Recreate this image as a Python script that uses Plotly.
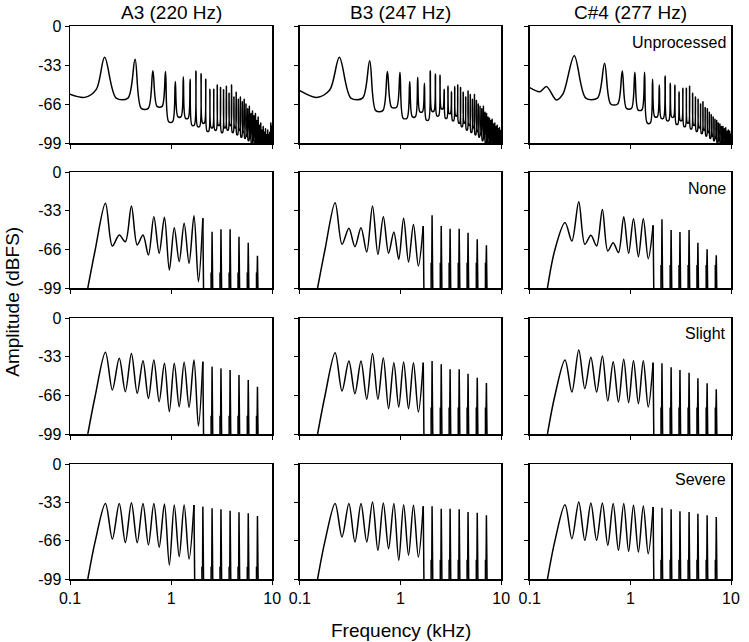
import math
import plotly.graph_objects as go

# ---------------- data ----------------
NOTES = ["A3 (220 Hz)", "B3 (247 Hz)", "C#4 (277 Hz)"]
F0_KHZ = [0.220, 0.247, 0.277]
CONDITIONS = ["Unprocessed", "None", "Slight", "Severe"]
X_TICKS = [0.1, 1, 10]
X_TICK_TEXT = ["0.1", "1", "10"]
Y_TICKS = [0, -33, -66, -99]

# Unprocessed: level before the first harmonic, harmonic peaks, troughs between harmonics
PRE_KHZ_A3 = [0.10, 0.14, 0.182]
PRE_DB_A3 = [-57.8, -60.4, -53.6]
HARM_PEAK_A3 = [-26.5, -28.2, -37.8, -38.6, -47.0, -43.0, -45.0, -38.0, -40.5, -45.0,
                -53.5, -53.5, -50.0, -52.0, -54.0, -51.0, -57.0, -50.0, -60.0, -56.0,
                -62.0, -60.0, -64.0, -62.0, -66.0, -70.0, -68.0, -74.0, -72.0, -76.0,
                -74.0, -80.0, -77.0, -84.0, -82.0, -88.0, -85.0, -90.0, -87.0, -92.0,
                -88.0, -92.0, -90.0, -82.0, -84.0]
HARM_TROUGH_A3 = [-61.0, -69.7, -68.0, -81.0, -76.7, -78.0, -84.0, -85.0, -82.0, -89.0,
                  -86.0, -88.0, -84.0, -90.0, -86.0, -88.0, -84.0, -90.0, -86.0, -92.0,
                  -88.0, -94.0, -90.0, -95.0, -93.0, -97.0, -95.0, -100.0, -97.0, -100.0,
                  -98.0, -101.0, -99.0, -102.0, -100.0, -102.0, -101.0, -103.0, -101.0, -103.0,
                  -101.0, -103.0, -101.0, -102.0]

PRE_KHZ_B3 = [0.10, 0.147, 0.198]
PRE_DB_B3 = [-54.7, -60.4, -54.2]
HARM_PEAK_B3 = [-26.5, -29.3, -38.6, -39.2, -47.0, -43.4, -48.5, -37.8, -40.6, -41.5,
                -53.6, -50.8, -55.6, -51.3, -49.9, -52.0, -56.0, -60.0, -55.0, -58.0,
                -62.0, -58.0, -63.0, -66.0, -68.0, -70.0, -68.0, -73.0, -74.0, -77.0,
                -78.0, -80.0, -79.0, -83.0, -82.0, -85.0, -84.0, -87.0, -86.0, -88.0]
HARM_TROUGH_B3 = [-61.0, -71.6, -68.8, -78.0, -76.7, -72.5, -79.5, -72.0, -76.0, -70.0,
                  -78.0, -74.0, -80.0, -76.0, -82.0, -85.0, -82.0, -88.0, -84.0, -90.0,
                  -86.0, -92.0, -89.0, -94.0, -92.0, -97.0, -95.0, -100.0, -98.0, -101.0,
                  -99.0, -102.0, -100.0, -102.0, -101.0, -103.0, -101.0, -103.0, -102.0]

PRE_KHZ_C4 = [0.10, 0.126, 0.147, 0.184, 0.214]
PRE_DB_C4 = [-52.2, -55.6, -51.3, -62.6, -57.5]
HARM_PEAK_C4 = [-25.1, -31.6, -38.1, -39.2, -39.2, -45.1, -49.9, -42.3, -48.5, -49.9,
                -55.6, -52.7, -52.7, -51.0, -57.0, -60.0, -62.0, -66.0, -64.0, -69.0,
                -70.0, -73.0, -75.0, -77.0, -79.0, -80.0, -82.0, -83.0, -85.0, -85.0,
                -87.0, -86.0, -89.0, -88.0, -89.0, -91.0]
HARM_TROUGH_C4 = [-61.0, -66.0, -69.7, -71.0, -82.0, -76.7, -78.0, -80.0, -77.0, -83.0,
                  -80.0, -85.0, -82.0, -87.0, -84.0, -89.0, -86.0, -91.0, -88.0, -93.0,
                  -90.0, -95.0, -93.0, -97.0, -95.0, -99.0, -97.0, -101.0, -99.0, -102.0,
                  -100.0, -103.0, -101.0, -103.0, -102.0]

# Processed: channel centre frequencies, onset, per-channel peaks, troughs between channels
# (None = trough falls below the -99 dB floor), and level of the spike shoulders
CHANNEL_KHZ = [0.224, 0.307, 0.405, 0.527, 0.675, 0.859, 1.074, 1.345,
               1.683, 2.06, 2.54, 3.11, 3.83, 4.69, 5.79, 7.14]
ONSET_KHZ = [0.150, 0.177]
ONSET_DB = [-99.0, -67.0]

PEAK_NONE_A3 = [-26.7, -53.8, -29.0, -53.8, -38.1, -38.7, -47.5, -43.8, -37.3, -39.5, -50.9, -48.9, -48.9, -55.2, -60.3, -71.4]
TROUGH_NONE_A3 = [-63.2, -59.5, -62.3, -70.8, -69.4, -83.6, -76.5, -78.0, -93.6, None, None, None, None, None, None]
SHOULDER_NONE_A3 = -86.5
PEAK_NONE_B3 = [-26.2, -48.1, -47.5, -29.0, -38.1, -51.2, -39.5, -44.7, -46.1, -37.0, -46.1, -48.4, -48.4, -51.8, -57.5, -62.6]
TROUGH_NONE_B3 = [-61.7, -63.7, -68.3, -70.3, -69.4, -74.5, -76.8, -80.2, None, None, None, None, None, None, None]
SHOULDER_NONE_B3 = -78.0
PEAK_NONE_C4 = [-43.2, -25.3, -54.0, -31.9, -60.3, -38.1, -39.8, -39.8, -45.5, -40.4, -49.5, -51.2, -49.5, -60.3, -66.0, -71.1]
TROUGH_NONE_C4 = [-58.9, -61.7, -63.2, -67.4, -68.8, -69.4, -72.3, -74.0, None, None, None, None, None, None, None]
SHOULDER_NONE_C4 = -80.0

PEAK_SLIGHT_A3 = [-29.3, -34.4, -30.2, -36.4, -35.8, -38.7, -38.7, -37.8, -35.8, -37.3, -41.5, -43.0, -44.4, -48.6, -52.9, -58.6]
TROUGH_SLIGHT_A3 = [-61.4, -62.9, -64.3, -68.6, -71.4, -79.9, -75.7, -76.2, -92.2, None, None, None, None, None, None]
SHOULDER_SLIGHT_A3 = -84.0
PEAK_SLIGHT_B3 = [-29.6, -36.7, -36.7, -30.4, -34.1, -38.1, -37.6, -38.1, -38.1, -36.7, -39.5, -43.8, -43.8, -47.5, -50.9, -55.5]
TROUGH_SLIGHT_B3 = [-62.3, -64.6, -69.4, -69.4, -77.4, -76.0, -77.4, -80.2, None, None, None, None, None, None, None]
SHOULDER_SLIGHT_B3 = -77.0
PEAK_SLIGHT_C4 = [-35.8, -27.3, -33.6, -32.4, -37.3, -35.3, -36.4, -36.4, -38.1, -38.7, -42.1, -44.4, -46.7, -51.5, -55.8, -60.9]
TROUGH_SLIGHT_C4 = [-63.2, -60.3, -63.2, -70.8, -71.7, -72.3, -73.1, -76.0, None, None, None, None, None, None, None]
SHOULDER_SLIGHT_C4 = -77.0

PEAK_SEVERE_A3 = [-33.9, -33.9, -33.3, -33.9, -33.9, -34.4, -35.3, -35.3, -35.3, -36.7, -38.2, -39.0, -40.2, -41.6, -42.5, -44.8]
TROUGH_SEVERE_A3 = [-64.6, -67.7, -67.7, -69.7, -71.7, -86.9, -79.8, -81.8, None, None, None, None, None, None, None]
SHOULDER_SEVERE_A3 = -89.0
PEAK_SEVERE_B3 = [-34.1, -34.1, -34.1, -32.7, -33.6, -34.1, -35.0, -35.6, -36.4, -36.4, -38.5, -38.5, -39.0, -41.3, -41.9, -44.2]
TROUGH_SEVERE_B3 = [-62.8, -67.1, -67.1, -74.3, -72.9, -82.9, -78.6, -80.1, None, None, None, None, None, None, None]
SHOULDER_SEVERE_B3 = -83.0
PEAK_SEVERE_C4 = [-35.0, -32.7, -33.6, -33.6, -34.1, -34.1, -35.6, -36.2, -37.0, -37.6, -39.0, -40.7, -41.3, -42.8, -44.2, -45.6]
TROUGH_SEVERE_C4 = [-64.3, -65.7, -65.7, -70.0, -74.3, -75.2, -75.8, -77.2, None, None, None, None, None, None, None]
SHOULDER_SEVERE_C4 = -83.0

# ---------------- drawing parameters ----------------
FLOOR_DB = -125.0          # below the axis range: clipped by the plot area
SPIKE_IN, SPIKE_OUT = 1.007, 1.022   # spike shelf extents (frequency ratios)
TROUGH_SPAN = (0.3, 0.7)   # where a harmonic trough level is held between harmonics
FONT = "Liberation Sans, Arial, sans-serif"

UNPROC = [
    (PRE_KHZ_A3, PRE_DB_A3, HARM_PEAK_A3, HARM_TROUGH_A3),
    (PRE_KHZ_B3, PRE_DB_B3, HARM_PEAK_B3, HARM_TROUGH_B3),
    (PRE_KHZ_C4, PRE_DB_C4, HARM_PEAK_C4, HARM_TROUGH_C4),
]
PROCESSED = [
    [(PEAK_NONE_A3, TROUGH_NONE_A3, SHOULDER_NONE_A3),
     (PEAK_NONE_B3, TROUGH_NONE_B3, SHOULDER_NONE_B3),
     (PEAK_NONE_C4, TROUGH_NONE_C4, SHOULDER_NONE_C4)],
    [(PEAK_SLIGHT_A3, TROUGH_SLIGHT_A3, SHOULDER_SLIGHT_A3),
     (PEAK_SLIGHT_B3, TROUGH_SLIGHT_B3, SHOULDER_SLIGHT_B3),
     (PEAK_SLIGHT_C4, TROUGH_SLIGHT_C4, SHOULDER_SLIGHT_C4)],
    [(PEAK_SEVERE_A3, TROUGH_SEVERE_A3, SHOULDER_SEVERE_A3),
     (PEAK_SEVERE_B3, TROUGH_SEVERE_B3, SHOULDER_SEVERE_B3),
     (PEAK_SEVERE_C4, TROUGH_SEVERE_C4, SHOULDER_SEVERE_C4)],
]


def unprocessed_xy(f0, pre_f, pre_db, peaks, troughs):
    xs, ys = list(pre_f), list(pre_db)
    for k, p in enumerate(peaks, start=1):
        xs.append(k * f0)
        ys.append(p)
        if k - 1 < len(troughs):
            for frac in TROUGH_SPAN:
                xs.append((k + frac) * f0)
                ys.append(troughs[k - 1])
    return xs, ys


def processed_xy(peaks, troughs, shoulder):
    """Returns a smooth low-frequency part and a part of narrow spikes."""
    sx, sy = list(ONSET_KHZ), list(ONSET_DB)
    n = len(CHANNEL_KHZ)
    first_spike = next(i for i in range(n) if i == n - 1 or troughs[i] is None)
    for i in range(first_spike + 1):
        sx.append(CHANNEL_KHZ[i])
        sy.append(peaks[i])
        if i < first_spike:
            sx.append(math.sqrt(CHANNEL_KHZ[i] * CHANNEL_KHZ[i + 1]))
            sy.append(troughs[i])
    px, py = [CHANNEL_KHZ[first_spike]], [peaks[first_spike]]
    for i in range(first_spike, n):
        f = CHANNEL_KHZ[i]
        if i > first_spike:
            px += [f / SPIKE_OUT, f / SPIKE_OUT, f / SPIKE_IN, f]
            py += [FLOOR_DB, shoulder, shoulder, peaks[i]]
        px += [f * SPIKE_IN, f * SPIKE_OUT, f * SPIKE_OUT]
        py += [shoulder, shoulder, FLOOR_DB]
    return (sx, sy), (px, py)


# ---------------- layout geometry (page pixels) ----------------
W, H = 749, 642
L, R, T, B = 70, 740, 26, 579
COLS_PX = [(70, 275), (303, 507), (536, 740)]
ROWS_PX = [(26, 143), (172, 288), (318, 434), (464, 579)]
PW, PH = R - L, B - T


def xdom(c):
    a, b = COLS_PX[c]
    return [(a - L) / PW, (b - L) / PW]


def ydom(r):
    a, b = ROWS_PX[r]
    return [(B - b) / PH, (B - a) / PH]


fig = go.Figure()
layout = dict(
    width=W, height=H,
    margin=dict(l=L, r=W - R, t=T, b=H - B, pad=0),
    paper_bgcolor="white", plot_bgcolor="white",
    showlegend=False,
    font=dict(family=FONT, size=16, color="black"),
)

for r in range(4):
    for c in range(3):
        n = r * 3 + c + 1
        sfx = "" if n == 1 else str(n)
        line_smooth = dict(color="black", width=1.5, shape="spline", smoothing=0.9)
        if r == 0:
            pf, pdb, pk, tr = UNPROC[c]
            xs, ys = unprocessed_xy(F0_KHZ[c], pf, pdb, pk, tr)
            parts = [((xs, ys), line_smooth)]
        else:
            pk, tr, sh = PROCESSED[r - 1][c]
            smooth, spikes = processed_xy(pk, tr, sh)
            parts = [(smooth, line_smooth),
                     (spikes, dict(color="black", width=1.5, shape="linear"))]
        for (xs, ys), ln in parts:
            fig.add_trace(go.Scatter(
                x=xs, y=ys, mode="lines", line=ln,
                xaxis="x" + sfx, yaxis="y" + sfx, hoverinfo="skip",
            ))
        layout["xaxis" + sfx] = dict(
            domain=xdom(c), anchor="y" + sfx, type="log", range=[-1, 1],
            tickvals=X_TICKS, ticktext=X_TICK_TEXT, showticklabels=(r == 3),
            ticks="outside", ticklen=4, tickwidth=1, tickcolor="black",
            showline=True, linecolor="black", linewidth=1.5, mirror=True,
            showgrid=False, zeroline=False, tickfont=dict(size=16),
        )
        layout["yaxis" + sfx] = dict(
            domain=ydom(r), anchor="x" + sfx, range=[-99, 0],
            tickvals=Y_TICKS, ticktext=[str(v) for v in Y_TICKS],
            showticklabels=(c == 0),
            ticks="outside", ticklen=4, tickwidth=1, tickcolor="black",
            showline=True, linecolor="black", linewidth=1.5, mirror=True,
            showgrid=False, zeroline=False, tickfont=dict(size=16),
        )

annotations = []
for c, name in enumerate(NOTES):
    a, b = COLS_PX[c]
    annotations.append(dict(
        text=name, xref="paper", yref="paper",
        x=((a + b) / 2 - L) / PW, y=1 + (T - 12) / PH,
        xanchor="center", yanchor="middle", showarrow=False,
        font=dict(size=19, family=FONT, color="black"),
    ))
label_y_px = [42, 188, 333, 479]
for r, name in enumerate(CONDITIONS):
    annotations.append(dict(
        text=name, xref="paper", yref="paper",
        x=(737 - L) / PW, y=(B - label_y_px[r]) / PH,
        xanchor="right", yanchor="middle", showarrow=False,
        font=dict(size=16, family=FONT, color="black"),
    ))
annotations.append(dict(
    text="Amplitude (dBFS)", xref="paper", yref="paper",
    x=(11 - L) / PW, y=(B - 302) / PH, textangle=-90,
    xanchor="center", yanchor="middle", showarrow=False,
    font=dict(size=19, family=FONT, color="black"),
))
annotations.append(dict(
    text="Frequency (kHz)", xref="paper", yref="paper",
    x=(405 - L) / PW, y=-(630 - B) / PH,
    xanchor="center", yanchor="middle", showarrow=False,
    font=dict(size=19, family=FONT, color="black"),
))
layout["annotations"] = annotations
fig.update_layout(**layout)
fig.write_html(
    "out.html",
    config={"displayModeBar": False, "staticPlot": True},
    post_script="document.body.style.margin='0px';document.body.style.overflow='hidden';",
)
